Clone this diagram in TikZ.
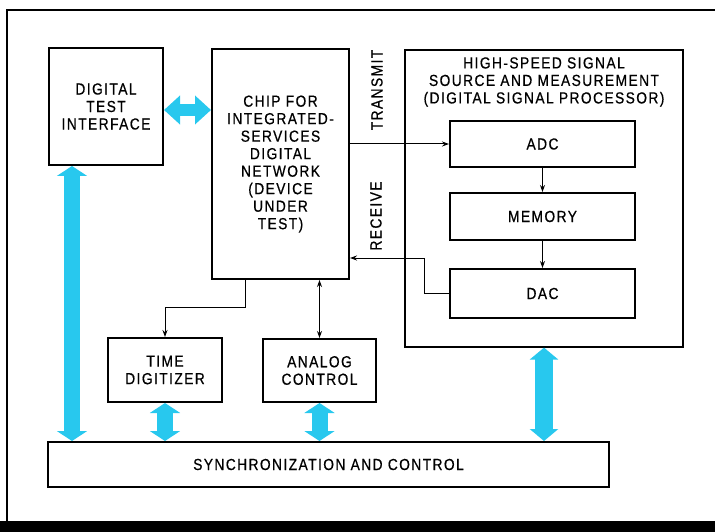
\documentclass[tikz,border=0pt]{standalone}
\usepackage{fontspec}
\setmainfont[FakeStretch=0.86, LetterSpace=9, FakeBold=0.6]{Liberation Sans}
\usetikzlibrary{arrows,arrows.meta,shapes}
\definecolor{buscyan}{RGB}{40,200,238}

\begin{document}
\begin{tikzpicture}[x=1pt,y=-1pt]
\tikzstyle{every node}=[font=\fontsize{16}{17.5}\selectfont, align=center, inner sep=0pt];
\tikzstyle{box}=[draw, line width=2pt];
\tikzstyle{wire}=[line width=1pt, -{Stealth[length=7pt,width=5pt]}];
\tikzstyle{bus}=[buscyan, line width=16pt, {Triangle[length=10pt,width=30pt]}-{Triangle[length=10pt,width=30pt]}];
\useasboundingbox (0,0) rectangle (715,532);
\draw[line width=1.5pt] (715,10) -- (7,10) -- (7,522);
\fill (0,521) rectangle (715,532);

% left column and device
\draw (106,106.5) node[box, minimum width=114pt, minimum height=117pt] (dti) {DIGITAL\\TEST\\INTERFACE};
\draw (280.5,164) node[box, minimum width=137pt, minimum height=230pt] (chip) {CHIP FOR\\INTEGRATED-\\SERVICES\\DIGITAL\\NETWORK\\(DEVICE\\UNDER\\TEST)};
\draw (165,370) node[box, minimum width=114pt, minimum height=64pt] (td) {TIME\\DIGITIZER};
\draw (319.5,370.5) node[box, minimum width=113pt, minimum height=63pt] (ac) {ANALOG\\CONTROL};
\draw (328.5,464.5) node[box, minimum width=561pt, minimum height=45pt] (sync) {SYNCHRONIZATION AND CONTROL};

% signal processor
\begin{scope}
\draw (544,198.5) node[draw, line width=1.2pt, minimum width=278pt, minimum height=297pt] (hss) {};
\draw (544,82) node (hsstitle) {HIGH-SPEED SIGNAL\\SOURCE AND MEASUREMENT\\(DIGITAL SIGNAL PROCESSOR)};
\draw (542.5,144) node[box, minimum width=185pt, minimum height=46pt] (adc) {ADC};
\draw (542.5,216.5) node[box, minimum width=185pt, minimum height=47pt] (mem) {MEMORY};
\draw (542.5,293.5) node[box, minimum width=185pt, minimum height=49pt] (dac) {DAC};
\draw[wire] (adc) -- (mem);
\draw[wire] (mem) -- (dac);
\end{scope}

% transmit / receive
\coordinate (rx) at (424,258);
\draw[wire] (chip.east |- adc.west) -- (adc.west);
\draw[wire] (dac.west) -| (rx) -- (chip.east |- rx);
\draw (377,90) node[rotate=90] (txlabel) {TRANSMIT};
\draw (376,216) node[rotate=90] (rxlabel) {RECEIVE};

% device to digitizer and analog control
\coordinate (tdj) at (245,307);
\draw[wire] (chip.south -| tdj) -- (tdj) -| (td.north);
\draw[wire, {Stealth[length=7pt,width=5pt]}-{Stealth[length=7pt,width=5pt]}] (chip.south -| ac.north) -- (ac.north);

% buses
\coordinate (link) at (0,110);
\coordinate (dtibus) at (72,0);
\draw[bus, line width=12pt, {Triangle[length=16pt,width=28pt]}-{Triangle[length=16pt,width=28pt]}] (dti.east |- link) -- (chip.west |- link);
\draw[bus] (dtibus |- dti.south) -- (dtibus |- sync.north);
\draw[bus] (td.south) -- (td.south |- sync.north);
\draw[bus] (ac.south) -- (ac.south |- sync.north);
\draw[bus, line width=18pt, {Triangle[length=12pt,width=28pt]}-{Triangle[length=12pt,width=28pt]}] (hss.south) -- (hss.south |- sync.north);
\end{tikzpicture}
\end{document}
